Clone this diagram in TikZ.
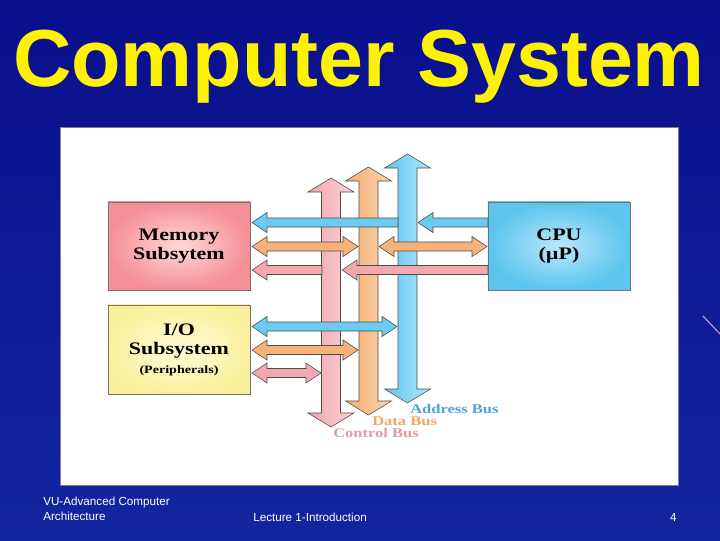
\documentclass[tikz,border=0pt]{standalone}
\usepackage{fontspec}
\setmainfont{Liberation Sans}
\newfontfamily\boxfont[FakeStretch=1.25]{Liberation Serif}
\usetikzlibrary{positioning}

\definecolor{slidetop}{HTML}{0A0F8C}
\definecolor{slidebot}{HTML}{1226A0}
\definecolor{ctlpink}{HTML}{F4A3AB}
\definecolor{ctllight}{HTML}{FBD3D8}
\definecolor{dataorange}{HTML}{F5AE72}
\definecolor{datalight}{HTML}{FBD3AE}
\definecolor{addrblue}{HTML}{5EC6EE}
\definecolor{addrlight}{HTML}{B0E6FA}
\definecolor{ctlfill}{HTML}{F4A7AE}
\definecolor{datafill}{HTML}{F6B27A}
\definecolor{addrfill}{HTML}{6ACCF0}
\definecolor{ctltext}{HTML}{E29AA5}
\definecolor{datatext}{HTML}{EFA966}
\definecolor{addrtext}{HTML}{4AA6DA}

\tikzset{
  busline/.style={draw=black!70, line width=0.4pt},
  box/.style={draw=black!55, line width=0.4pt, minimum width=3.55cm, minimum height=2.2cm,
    align=center, font=\boxfont\bfseries\fontsize{12.5}{13}\selectfont},
  buslbl/.style={font=\boxfont\bfseries\fontsize{9.4}{10}\selectfont, anchor=base west, inner sep=0},
  foot/.style={text=white, font=\fontsize{8.3}{10.6}\selectfont, inner sep=0}
}

% block arrow, head on the left: y, tip x, end x, colour
\newcommand{\arrL}[4]{\filldraw[busline, fill=#4] (#2,#1) -- (#2+15,#1-10) -- (#2+15,#1-4.5) --
  (#3,#1-4.5) -- (#3,#1+4.5) -- (#2+15,#1+4.5) -- (#2+15,#1+10) -- cycle;}
% block arrow, heads on both ends: y, left tip x, right tip x, colour
\newcommand{\arrD}[4]{\filldraw[busline, fill=#4] (#2,#1) -- (#2+15,#1-10) -- (#2+15,#1-4.5) --
  (#3-15,#1-4.5) -- (#3-15,#1-10) -- (#3,#1) -- (#3-15,#1+10) -- (#3-15,#1+4.5) --
  (#2+15,#1+4.5) -- (#2+15,#1+10) -- cycle;}
% vertical bus: centre x, top apex, bottom tip, left colour, right colour
\newcommand{\busbar}[5]{\shadedraw[busline, left color=#4, right color=#5]
  (#1-9.5,#2+14) -- (#1-23,#2+14) -- (#1,#2) -- (#1+23,#2+14) -- (#1+9.5,#2+14) --
  (#1+9.5,#3-14) -- (#1+23,#3-14) -- (#1,#3) -- (#1-23,#3-14) -- (#1-9.5,#3-14) -- cycle;}

\begin{document}
\begin{tikzpicture}[x=0.025cm, y=-0.025cm]
 \useasboundingbox (0,0) rectangle (720,540);
 \shade[top color=slidetop, bottom color=slidebot] (0,0) rectangle (720,540);
 \draw[color=violet!40, line width=0.8pt] (703,316) -- (720,334);
 \node[text=yellow, font=\bfseries\fontsize{57.5}{60}\selectfont, anchor=base] (title) at (359,86) {Computer System};
 \filldraw[fill=white, draw=black!50] (60,127) rectangle (678,485);

 % units
 \node[box, inner color=red!15!white, outer color={rgb,255:red,245;green,143;blue,150}] (mem) at (179,246) {Memory\\Subsytem};
 \node[box, minimum height=2.225cm, inner color={rgb,255:red,255;green,252;blue,218}, outer color={rgb,255:red,250;green,240;blue,156}] (io) at (179,349.5)
  {I/O\\[1pt]Subsystem\\{\fontsize{8}{10}\selectfont(Peripherals)}};
 \node[box, inner color={rgb,255:red,184;green,232;blue,251}, outer color={rgb,255:red,92;green,196;blue,238}] (cpu) at (559,246) {CPU\\(µP)};

 % buses
 \foreach \cx/\ytop/\ybot/\cl/\cr in {331/178/427/ctlpink/ctllight, 368.5/167/415/dataorange/datalight, 407.5/154/403/addrblue/addrlight} {
  \busbar{\cx}{\ytop}{\ybot}{\cl}{\cr}
 }

 % memory links
 \arrL{222.5}{252}{398}{addrfill}
 \arrD{246.5}{252}{358}{datafill}
 \arrL{270}{252}{322}{ctlfill}
 % cpu links
 \arrL{222.5}{418}{488}{addrfill}
 \arrD{246.5}{379}{487}{datafill}
 \arrL{270}{342}{488}{ctlfill}
 % i/o links
 \arrD{326.5}{252}{397}{addrfill}
 \arrD{350}{252}{358}{datafill}
 \arrD{373}{252}{321}{ctlfill}

 \node[buslbl, text=addrtext] (addrlbl) at (410,413) {Address Bus};
 \node[buslbl, text=datatext] (datalbl) at (372,425) {Data Bus};
 \node[buslbl, text=ctltext] (ctllbl) at (333,437) {Control Bus};

 \node[foot, anchor=north west, align=left] (course) at (43,497) {VU-Advanced Computer\\Architecture};
 \node[foot, anchor=base west] (lecture) at (253,521) {Lecture 1-Introduction};
 \node[foot, anchor=base east] (page) at (677,521) {4};
\end{tikzpicture}
\end{document}
